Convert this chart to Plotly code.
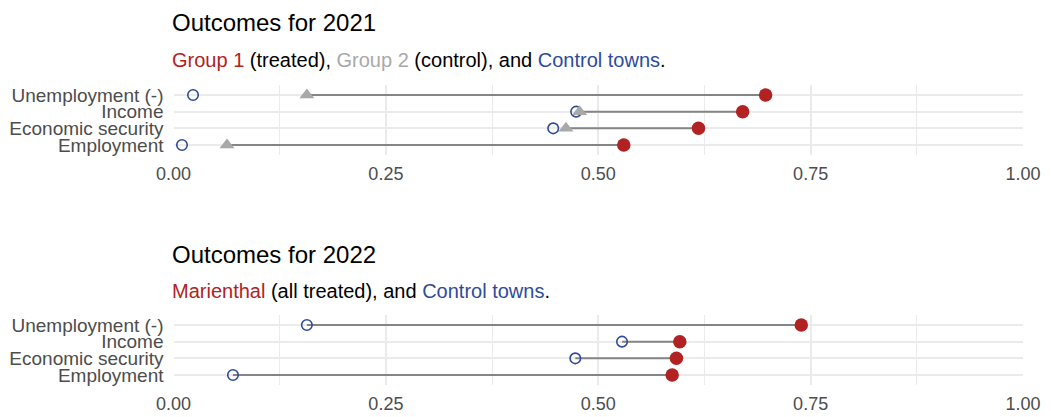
import plotly.graph_objects as go

W, H = 1051, 417

categories = ["Employment", "Economic security", "Income", "Unemployment (-)"]

# 2021 values
g1_2021 = [0.530, 0.618, 0.670, 0.697]       # Group 1 (treated)
g2_2021 = [0.063, 0.462, 0.478, 0.157]       # Group 2 (control)
ctrl_2021 = [0.010, 0.447, 0.474, 0.023]     # Control towns

# 2022 values
mar_2022 = [0.587, 0.592, 0.596, 0.739]      # Marienthal (all treated)
ctrl_2022 = [0.070, 0.473, 0.528, 0.157]     # Control towns

x_ticks = [0.0, 0.25, 0.5, 0.75, 1.0]
x_ticklabels = ["0.00", "0.25", "0.50", "0.75", "1.00"]

RED = "#B22222"
GREY = "#A9A9A9"
BLUE = "#2E4B9B"
SEG = "#858585"
GRID = "#EBEBEB"
FONT = "Liberation Sans, Arial, sans-serif"

fig = go.Figure()


def segs(a, b):
    xs, ys = [], []
    for i, c in enumerate(categories):
        xs += [a[i], b[i], None]
        ys += [c, c, None]
    return xs, ys


# ---- 2021 panel ----
sx, sy = segs(g2_2021, g1_2021)
fig.add_trace(go.Scatter(x=sx, y=sy, mode="lines", line=dict(color=SEG, width=2),
                         xaxis="x", yaxis="y", showlegend=False, hoverinfo="skip"))
fig.add_trace(go.Scatter(x=ctrl_2021, y=categories, mode="markers",
                         marker=dict(symbol="circle-open", size=10.5, color=BLUE, line=dict(width=1.6)),
                         xaxis="x", yaxis="y", showlegend=False))
fig.add_trace(go.Scatter(x=g2_2021, y=categories, mode="markers",
                         marker=dict(symbol="triangle-up", size=13, color=GREY),
                         xaxis="x", yaxis="y", showlegend=False))
fig.add_trace(go.Scatter(x=g1_2021, y=categories, mode="markers",
                         marker=dict(symbol="circle", size=13.5, color=RED),
                         xaxis="x", yaxis="y", showlegend=False))

# ---- 2022 panel ----
sx, sy = segs(ctrl_2022, mar_2022)
fig.add_trace(go.Scatter(x=sx, y=sy, mode="lines", line=dict(color=SEG, width=2),
                         xaxis="x2", yaxis="y2", showlegend=False, hoverinfo="skip"))
fig.add_trace(go.Scatter(x=ctrl_2022, y=categories, mode="markers",
                         marker=dict(symbol="circle-open", size=10.5, color=BLUE, line=dict(width=1.6)),
                         xaxis="x2", yaxis="y2", showlegend=False))
fig.add_trace(go.Scatter(x=mar_2022, y=categories, mode="markers",
                         marker=dict(symbol="circle", size=13.5, color=RED),
                         xaxis="x2", yaxis="y2", showlegend=False))

x0, x1 = 173.5 / W, 1023 / W


def xaxis(anchor):
    return dict(domain=[x0, x1], range=[0, 1], anchor=anchor,
                tickmode="array", tickvals=x_ticks, ticktext=x_ticklabels,
                showgrid=True, gridcolor=GRID, gridwidth=1.6,
                minor=dict(dtick=0.125, tick0=0, showgrid=True, gridcolor=GRID, gridwidth=1.3),
                zeroline=False, showline=False, ticks="",
                tickfont=dict(size=18, color="#4D4D4D", family=FONT),
                ticklabelstandoff=6, automargin=False, fixedrange=True)


def yaxis(anchor, top_px, bot_px):
    return dict(domain=[1 - bot_px / H, 1 - top_px / H], anchor=anchor,
                type="category", categoryorder="array", categoryarray=categories,
                tickmode="array", tickvals=categories, ticktext=categories,
                range=[-0.6, 3.6], showgrid=True, gridcolor=GRID, gridwidth=1.8,
                zeroline=False, showline=False, ticks="",
                tickfont=dict(size=19, color="#4D4D4D", family=FONT),
                ticklabelstandoff=9, automargin=False, fixedrange=True)


fig.update_layout(
    width=W, height=H,
    margin=dict(l=0, r=0, t=0, b=0),
    paper_bgcolor="white", plot_bgcolor="white",
    font=dict(family=FONT),
    xaxis=xaxis("y"),
    yaxis=yaxis("x", 85, 155),
    xaxis2=xaxis("y2"),
    yaxis2=yaxis("x2", 315, 385),
)


def txt(s, y_px, size, color="black"):
    fig.add_annotation(text=s, xref="paper", yref="paper", x=170 / W, y=1 - y_px / H,
                       xanchor="left", yanchor="middle", showarrow=False,
                       font=dict(size=size, color=color, family=FONT))


txt("Outcomes for 2021", 23, 24)
txt(f"<span style='color:{RED}'>Group 1</span> (treated), "
    f"<span style='color:{GREY}'>Group 2</span> (control), and "
    f"<span style='color:{BLUE}'>Control towns</span>.", 60, 20)
txt("Outcomes for 2022", 254, 24)
txt(f"<span style='color:{RED}'>Marienthal</span> (all treated), and "
    f"<span style='color:{BLUE}'>Control towns</span>.", 291, 20)

fig.write_html("out.html", config={"displayModeBar": False},
               post_script="document.body.style.margin='0';document.body.style.overflow='hidden';")
